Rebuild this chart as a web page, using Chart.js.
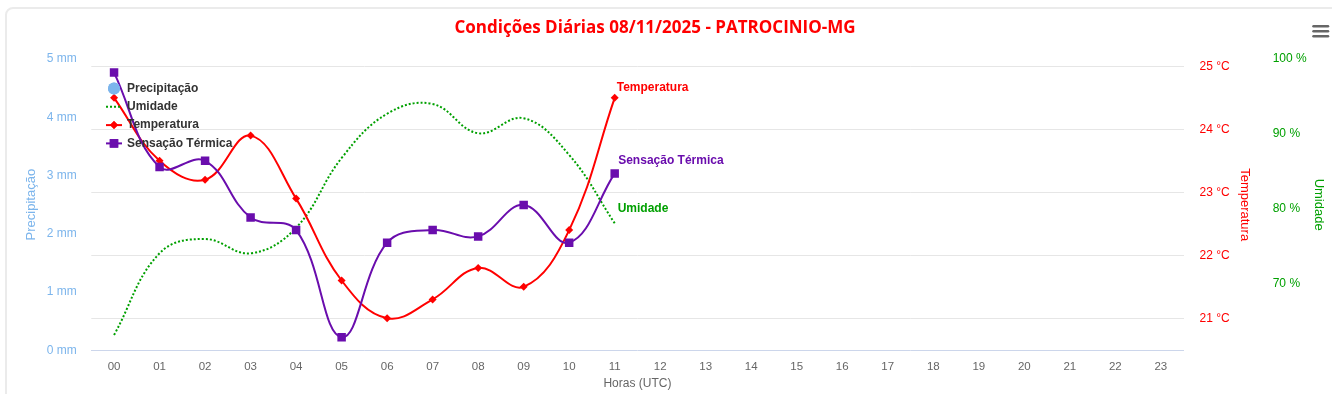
<!DOCTYPE html>
<html>
<head>
<meta charset="utf-8">
<script src="https://cdn.jsdelivr.net/npm/chart.js@4.4.0/dist/chart.umd.min.js"></script>
<style>
    html, body { margin: 0; padding: 0; background: #fff; overflow: hidden; }
    #card { position: absolute; left: 5px; top: 7px; width: 1400px; height: 450px; border: 2px solid #ebebeb; border-radius: 8px; box-sizing: border-box; }
    #wrap { position: absolute; left: 0; top: 0; width: 1332px; height: 394px; }
</style>
</head>
<body>
<div id="card"></div>
<div id="wrap"><canvas id="chart" width="1332" height="394"></canvas></div>
<script>
// Data (hours 00..11 only, rest empty)
const hours = ['00', '01', '02', '03', '04', '05', '06', '07', '08', '09', '10', '11',
    '12', '13', '14', '15', '16', '17', '18', '19', '20', '21', '22', '23'];
const precipitacao = [];
const umidade = [63.2, 74.1, 76.0, 74.1, 77.5, 86.8, 92.7, 94.0, 90.1, 92.1, 87.2, 78.1];
const temperatura = [24.5, 23.5, 23.2, 23.9, 22.9, 21.6, 21.0, 21.3, 21.8, 21.5, 22.4, 24.5];
const sensacao = [24.9, 23.4, 23.5, 22.6, 22.4, 20.7, 22.2, 22.4, 22.3, 22.8, 22.2, 23.3];

const precipTicks = [0, 1, 2, 3, 4, 5];
const tempTicks = [21, 22, 23, 24, 25];
const umidTicks = [70, 80, 90, 100];

const FONT = '"Liberation Sans", Arial, sans-serif';
const TITLE = 'Condições Diárias 08/11/2025 - PATROCINIO-MG';

const fixTicks = list => scale => { scale.ticks = list.map(v => ({ value: v })); };

// Highcharts-like decorations: title, menu icon, floating legend, end labels
const decorations = {
    id: 'decorations',
    afterDatasetsDraw(chart) {
        const ctx = chart.ctx;
        ctx.save();
        ctx.font = 'bold 12px ' + FONT;
        ctx.textBaseline = 'middle';
        ctx.textAlign = 'left';
        chart.data.datasets.forEach((ds, i) => {
            if (!ds.endLabel || !ds.data.length) return;
            const pt = chart.getDatasetMeta(i).data[ds.data.length - 1];
            const x = pt.x + ds.endLabel.dx, y = pt.y + ds.endLabel.dy;
            ctx.lineWidth = 2;
            ctx.strokeStyle = 'rgba(255,255,255,0.8)';
            ctx.strokeText(ds.label, x, y);
            ctx.fillStyle = ds.borderColor;
            ctx.fillText(ds.label, x, y);
        });
        ctx.restore();
    },
    afterDraw(chart) {
        const ctx = chart.ctx;
        ctx.save();

        // title
        ctx.font = 'bold 17px "Open Sans", ' + FONT;
        ctx.fillStyle = '#ff0000';
        ctx.textAlign = 'center';
        ctx.textBaseline = 'middle';
        ctx.fillText(TITLE, 655, 28);

        // menu icon
        ctx.strokeStyle = '#666';
        ctx.lineWidth = 2.5;
        ctx.lineCap = 'round';
        [26.3, 31.2, 36.2].forEach(y => {
            ctx.beginPath();
            ctx.moveTo(1313.5, y);
            ctx.lineTo(1328, y);
            ctx.stroke();
        });
        ctx.lineCap = 'butt';

        // legend
        ctx.font = 'bold 12px ' + FONT;
        ctx.textAlign = 'left';
        chart.data.datasets.forEach((ds, i) => {
            const y = 88.5 + i * 18.3;
            const cx = 114;
            ctx.fillStyle = ds.borderColor;
            ctx.strokeStyle = ds.borderColor;
            if (ds.showLine !== false) {
                ctx.lineWidth = 2;
                ctx.setLineDash(ds.borderDash || []);
                ctx.beginPath();
                ctx.moveTo(cx - 8, y);
                ctx.lineTo(cx + 8, y);
                ctx.stroke();
                ctx.setLineDash([]);
            }
            if (ds.pointRadius > 0) {
                Chart.helpers.drawPoint(ctx, { pointStyle: ds.pointStyle, radius: ds.pointRadius, rotation: 0, borderWidth: 0 }, cx, y);
                ctx.fill();
            }
            ctx.fillStyle = '#333333';
            ctx.fillText(ds.label, 127, y);
        });
        ctx.restore();
    }
};

new Chart(document.getElementById('chart'), {
    type: 'line',
    data: {
        labels: hours,
        datasets: [
            {
                label: 'Precipitação',
                data: precipitacao,
                yAxisID: 'yP',
                showLine: false,
                pointStyle: 'circle',
                pointRadius: 6,
                borderColor: '#7cb5ec',
                backgroundColor: '#7cb5ec',
                order: 4
            },
            {
                label: 'Umidade',
                data: umidade,
                yAxisID: 'yU',
                borderColor: '#00a000',
                borderWidth: 2,
                borderDash: [2, 2],
                pointRadius: 0,
                tension: 0.4,
                endLabel: { dx: 3, dy: -15 },
                order: 3
            },
            {
                label: 'Temperatura',
                data: temperatura,
                yAxisID: 'yT',
                borderColor: '#ff0000',
                backgroundColor: '#ff0000',
                borderWidth: 2,
                pointStyle: 'rectRot',
                pointRadius: 4,
                pointBorderWidth: 0,
                tension: 0.4,
                endLabel: { dx: 2, dy: -10 },
                order: 2
            },
            {
                label: 'Sensação Térmica',
                data: sensacao,
                yAxisID: 'yT',
                borderColor: '#6a0dad',
                backgroundColor: '#6a0dad',
                borderWidth: 2,
                pointStyle: 'rect',
                pointRadius: 6,
                pointBorderWidth: 0,
                tension: 0.4,
                endLabel: { dx: 3.5, dy: -12.5 },
                order: 1
            }
        ]
    },
    options: {
        responsive: false,
        animation: false,
        layout: { padding: { left: 0, right: 5.5, top: 59, bottom: 0 } },
        plugins: {
            legend: { display: false },
            title: { display: false },
            tooltip: { enabled: false }
        },
        scales: {
            x: {
                offset: true,
                grid: { display: false, drawTicks: false },
                border: { display: true, color: '#ccd6eb', width: 1 },
                ticks: { color: '#666666', font: { family: FONT, size: 11.5 }, padding: 10, autoSkip: false, maxRotation: 0 },
                title: { display: true, text: 'Horas (UTC)', color: '#666666', font: { family: FONT, size: 12 }, padding: { top: 0, bottom: 2.8 } },
                afterFit: s => { s.height = 43.7; }
            },
            yP: {
                position: 'left',
                min: 0,
                max: 5,
                afterBuildTicks: fixTicks(precipTicks),
                grid: { display: false, drawTicks: false },
                border: { display: false },
                ticks: { color: '#7cb5ec', font: { family: FONT, size: 12 }, padding: 14.6, callback: v => v + ' mm' },
                title: { display: true, text: 'Precipitação', color: '#7cb5ec', font: { family: FONT, size: 13 }, padding: { top: 23.2, bottom: 0 } },
                afterFit: s => { s.width = 91.3; }
            },
            yT: {
                position: 'right',
                weight: 0,
                min: 20.492,
                max: 25.116,
                afterBuildTicks: fixTicks(tempTicks),
                grid: { display: true, color: '#e6e6e6', lineWidth: 1, drawTicks: false },
                border: { display: false },
                ticks: { color: '#ff0000', font: { family: FONT, size: 12 }, padding: 16, callback: v => v + ' °C' },
                title: { display: true, text: 'Temperatura', color: '#ff0000', font: { family: FONT, size: 13 }, padding: { top: 0, bottom: 0 } },
                afterFit: s => { s.width = 68.6; }
            },
            yU: {
                position: 'right',
                weight: 1,
                min: 61.16,
                max: 100,
                afterBuildTicks: fixTicks(umidTicks),
                grid: { display: false, drawTicks: false },
                border: { display: false },
                ticks: { color: '#00a000', font: { family: FONT, size: 12 }, padding: 20.5, callback: v => v + ' %' },
                title: { display: true, text: 'Umidade', color: '#00a000', font: { family: FONT, size: 13 }, padding: { top: 0, bottom: 0 } },
                afterFit: s => { s.width = 74.3; }
            }
        }
    },
    plugins: [decorations]
});
</script>
</body>
</html>
